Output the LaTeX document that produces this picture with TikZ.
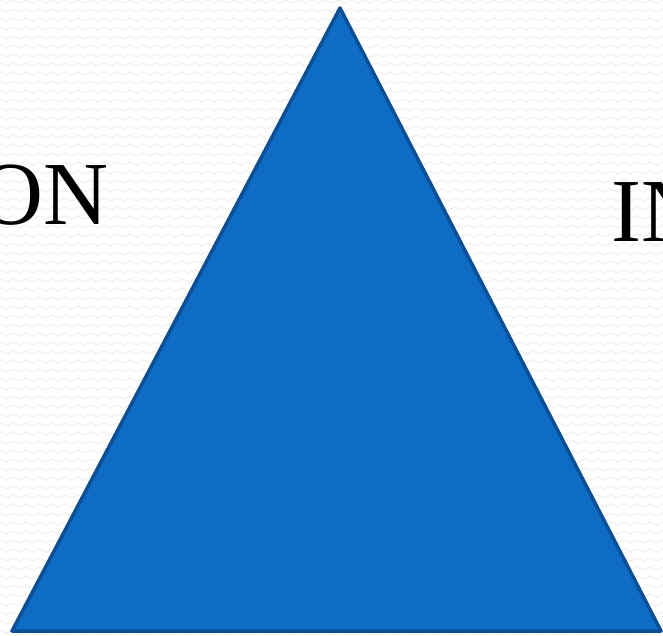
\documentclass[tikz,border=0pt]{standalone}
\usepackage{fontspec}
\setmainfont{Liberation Serif}
\usepackage{xcolor}
\usetikzlibrary{positioning, calc}

\definecolor{triblue}{HTML}{0F6CC4}
\definecolor{triedge}{HTML}{0B4F95}

\begin{document}
\begin{tikzpicture}[x=1pt, y=-1pt,
    word/.style={anchor=base west, inner sep=0pt, font=\fontsize{90}{90}\selectfont, text=black},
    zig/.style={draw=black!5, line width=1.4pt},
    tri/.style={fill=triblue, draw=triedge, line width=3.5pt, line join=round}
]
\useasboundingbox (0,0) rectangle (663,636);
\clip (0,0) rectangle (663,636);
\fill[white] (0,0) rectangle (663,636);
% background zigzag texture
\foreach \r in {0,...,71} {
  \draw[zig] (-6.5,{\r*9+3}) \foreach \k in {0,...,52} { -- ({\k*13},{\r*9}) -- ({\k*13+6.5},{\r*9+3}) };
}
\node[word] (on) at (-22,225) {ON};
\node[word] (in) at (611,241) {IN};
\coordinate (top) at (340,8);
\coordinate (bl) at (12,631);
\coordinate (br) at (661,631);
\draw[tri] (top) -- (br) -- (bl) -- cycle;
\end{tikzpicture}
\end{document}
